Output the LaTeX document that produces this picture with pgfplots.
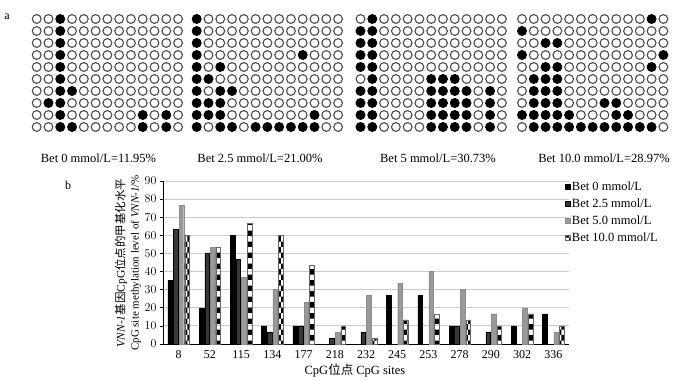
\documentclass[border=0pt]{standalone}
\usepackage{pgfplots}
\pgfplotsset{compat=1.18}
\usepackage{pgfplotstable}
\usepackage{fontspec}
\setmainfont{Liberation Serif}
\newfontfamily\cjk{Noto Sans CJK SC}
\usetikzlibrary{patterns}

\pgfplotstableread{
r c1 c2 c3 c4 c5 c6 c7 c8 c9 c10 c11 c12 c13
1 0 0 1 0 0 0 0 0 0 0 0 0 0
2 0 0 1 0 0 0 0 0 0 0 0 0 0
3 0 0 1 0 0 0 0 0 0 0 0 0 0
4 0 0 1 0 0 0 0 0 0 0 0 0 0
5 0 0 1 0 0 0 0 0 0 0 0 0 0
6 0 0 1 0 0 0 0 0 0 0 0 0 0
7 0 0 1 1 0 0 0 0 0 0 0 0 0
8 0 1 1 0 0 0 0 0 0 0 0 0 0
9 0 0 1 0 0 0 0 0 0 1 0 1 0
10 0 0 1 1 0 0 0 0 0 1 0 1 0
}\gridA
\pgfplotstableread{
r c1 c2 c3 c4 c5 c6 c7 c8 c9 c10 c11 c12 c13
1 1 0 0 0 0 0 0 0 0 0 0 0 0
2 1 0 0 0 0 0 0 0 0 0 0 0 0
3 1 0 0 0 0 0 0 0 0 0 0 0 0
4 1 0 0 0 0 0 0 0 0 1 0 0 0
5 1 0 1 0 0 0 0 0 0 0 0 0 0
6 1 1 0 0 0 0 0 0 0 0 0 0 0
7 1 0 1 1 0 0 0 0 0 0 0 0 0
8 1 1 1 0 0 0 0 0 0 0 0 0 0
9 1 1 1 0 0 0 0 0 0 0 1 0 0
10 1 0 1 1 0 1 1 1 1 1 1 0 0
}\gridB
\pgfplotstableread{
r c1 c2 c3 c4 c5 c6 c7 c8 c9 c10 c11 c12 c13
1 0 1 0 0 0 0 0 0 0 0 0 0 0
2 1 1 0 0 0 0 0 0 0 0 0 0 0
3 1 1 0 0 0 0 0 0 0 0 0 0 0
4 1 1 0 0 0 0 0 0 0 0 0 0 0
5 1 1 0 0 0 0 0 0 0 0 0 0 0
6 0 1 0 0 0 0 1 1 1 0 0 0 0
7 1 1 0 0 0 0 1 1 1 1 0 1 0
8 1 1 0 0 0 0 1 1 1 1 0 1 0
9 1 1 0 0 0 0 1 1 1 1 0 1 0
10 1 1 0 0 0 0 1 1 1 1 0 1 0
}\gridC
\pgfplotstableread{
r c1 c2 c3 c4 c5 c6 c7 c8 c9 c10 c11 c12 c13
1 0 0 0 0 0 0 0 0 0 0 0 1 0
2 1 0 0 0 0 0 0 0 0 0 0 0 0
3 0 0 1 1 0 0 0 0 0 0 0 0 0
4 1 0 0 0 0 0 0 0 0 0 0 0 1
5 0 0 1 1 0 0 0 0 0 0 0 1 0
6 0 1 1 1 0 0 0 0 0 0 0 0 0
7 0 1 1 1 0 0 0 0 0 0 0 0 0
8 0 1 1 1 0 0 0 1 1 0 0 0 0
9 1 1 1 1 1 0 0 0 1 1 0 0 0
10 0 1 1 1 1 1 1 1 1 1 1 1 0
}\gridD

\pgfplotstableread{
x b0 b25 b50 b100
0 35 63.3 76.7 60
1 20 50 53.3 53.3
2 60 46.7 36.7 66.7
3 10 6.7 30 60
4 10 10 23.3 43.3
5 0 3.3 6.7 10
6 0 6.7 26.7 3.3
7 26.7 0 33.3 13.3
8 26.7 0 40 16.7
9 10 10 30 13.3
10 0 6.7 16.7 10
11 10 0 20 16.7
12 16.7 0 6.7 10
}\bars

\pgfplotsset{
  dotstyle/.style={scatter, only marks, scatter src=explicit symbolic,
    mark size=4.4pt, mark options={line width=1.1pt},
    scatter/classes={0={mark=o,black!70},1={mark=*,black}}},
}

\begin{document}
\begin{tikzpicture}[x=1pt,y=1pt]
\begin{axis}[at={(0pt,0pt)}, anchor=south west, scale only axis, width=700pt, height=380pt,
  xmin=0, xmax=700, ymin=0, ymax=380, hide axis, clip=false]
\pgfplotsinvokeforeach{1,...,13}{
  \addplot[dotstyle] table[x expr={36.7+(#1-1)*11.78}, y expr={361-(\thisrow{r}-1)*12}, meta=c#1]{\gridA};
  \addplot[dotstyle] table[x expr={196.7+(#1-1)*11.78}, y expr={361-(\thisrow{r}-1)*12}, meta=c#1]{\gridB};
  \addplot[dotstyle] table[x expr={360.5+(#1-1)*11.78}, y expr={361-(\thisrow{r}-1)*12}, meta=c#1]{\gridC};
  \addplot[dotstyle] table[x expr={522+(#1-1)*11.78}, y expr={361-(\thisrow{r}-1)*12}, meta=c#1]{\gridD};
}
\end{axis}

\begin{axis}[at={(163pt,36pt)}, anchor=south west, scale only axis, width=406pt, height=163pt,
  ymin=0, ymax=90, xmin=-0.5, xmax=12.5,
  ytick={0,10,...,90}, xtick={0,...,12},
  xticklabels={8,52,115,134,177,218,232,245,253,278,290,302,336},
  ybar=1pt, bar width=4.6pt,
  axis x line*=bottom, axis y line*=left,
  axis line style={-, black, line width=0.7pt},
  ymajorgrids, grid style={black!20, line width=0.9pt},
  xtick style={draw=none}, ytick style={black, line width=0.6pt},
  tick align=outside, major tick length=3pt,
  tick label style={font=\fontsize{12}{12}\selectfont},
  legend style={at={(rel axis cs:0.99,1.01)}, anchor=north west, draw=none, fill=none,
    inner sep=0pt, row sep=2.8pt, font=\fontsize{12.5}{14}\selectfont, cells={anchor=west}},
  legend image code/.code={\draw[#1] (0pt,-2.3pt) rectangle (4.4pt,2.3pt);},
]
\addplot[fill=black, draw=black] table[x=x, y=b0]{\bars};
\addplot[fill=black!78, draw=black] table[x=x, y=b25]{\bars};
\addplot[fill=black!40, draw=black!45] table[x=x, y=b50]{\bars};
\addplot[pattern=checkerboard, pattern color=black, draw=black!60] table[x=x, y=b100]{\bars};
\legend{Bet 0 mmol/L, Bet 2.5 mmol/L, Bet 5.0 mmol/L, Bet 10.0 mmol/L}
\end{axis}

\node[font=\fontsize{12.5}{14}\selectfont] at (98.5,222) {Bet 0 mmol/L=11.95\%};
\node[font=\fontsize{12.5}{14}\selectfont] at (260,222) {Bet 2.5 mmol/L=21.00\%};
\node[font=\fontsize{12.5}{14}\selectfont] at (438,222) {Bet 5 mmol/L=30.73\%};
\node[font=\fontsize{12.5}{14}\selectfont] at (604,222) {Bet 10.0 mmol/L=28.97\%};
\node[font=\fontsize{12}{14}\selectfont] at (7,363) {a};
\node[font=\fontsize{12}{14}\selectfont] at (68,195) {b};
\node[rotate=90, font=\fontsize{11.5}{13}\selectfont] at (121,117) {\textit{VNN-1}{\cjk 基因}CpG{\cjk 位点的甲基化水平}};
\node[rotate=90, font=\fontsize{11}{13}\selectfont] at (136,117) {CpG site methylation level of \textit{VNN-1}/\%};
\node[font=\fontsize{12.5}{14}\selectfont] at (355,9) {CpG{\cjk 位点} CpG sites};
\pgfresetboundingbox
\path (0,0) rectangle (700,380);
\end{tikzpicture}
\end{document}
